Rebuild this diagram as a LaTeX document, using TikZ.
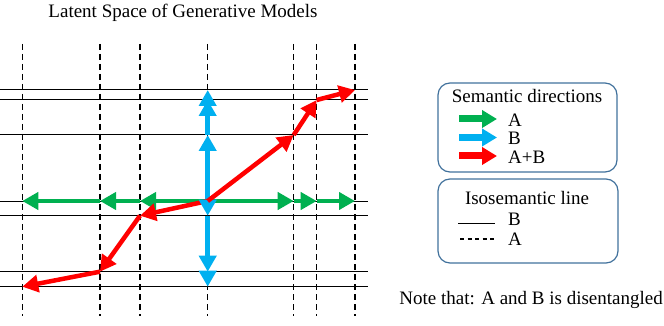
\documentclass[tikz,border=0pt]{standalone}
\usepackage{fontspec}
\setmainfont{Liberation Serif}
\usetikzlibrary{arrows.meta}
\definecolor{cgreen}{HTML}{00B050}
\definecolor{cblue}{HTML}{00B0F0}
\definecolor{cred}{HTML}{FF0000}
\definecolor{cbox}{HTML}{41719C}
\begin{document}
\begin{tikzpicture}[x=1pt,y=-1pt,
  txt/.style={font=\fontsize{19}{22}\selectfont, inner sep=0pt},
  isoB/.style={black, line width=1pt},
  isoA/.style={black, line width=1.2pt, dash pattern=on 6pt off 4pt},
  isoAleg/.style={black, line width=1.2pt, dash pattern=on 4pt off 3.5pt},
  varrow/.style={line width=4.5pt, -{Triangle[width=17pt,length=16pt]}},
  legarrow/.style={line width=7pt, -{Triangle[width=17pt,length=15pt]}},
  legbox/.style={draw=cbox, line width=1.2pt, rounded corners=12pt}]
\useasboundingbox (0,0) rectangle (664,326);
% title
\node[txt] (title) at (183,13) {Latent Space of Generative Models};
% dashed vertical lines (A)
\foreach \x [count=\i] in {22.3,100,140,207.7,293.7,316.7,355}{
  \coordinate (vt\i) at (\x,44);
  \coordinate (vb\i) at (\x,316);
  \draw[isoA] (vt\i) -- (vb\i);
}
% solid horizontal lines (B)
\foreach \y [count=\i] in {90,100,135,201,215.7,271.7,286.7}{
  \coordinate (hl\i) at (0,\y);
  \coordinate (hr\i) at (368,\y);
  \draw[isoB] (hl\i) -- (hr\i);
}
% grid points
\coordinate (O) at (207.7,201);
\coordinate (gL1) at (140,201);
\coordinate (gL2) at (100,201);
\coordinate (gL3) at (22.3,201);
\coordinate (gR1) at (293.7,201);
\coordinate (gR2) at (316.7,201);
\coordinate (gR3) at (355,201);
\coordinate (bU1) at (207.7,135);
\coordinate (bU2) at (207.7,100);
\coordinate (bU3) at (207.7,90);
\coordinate (bD1) at (207.7,215.7);
\coordinate (bD2) at (207.7,271.7);
\coordinate (bD3) at (207.7,286.7);
\coordinate (rU1) at (293.7,135);
\coordinate (rU2) at (316.7,100);
\coordinate (rU3) at (355,90);
\coordinate (rD1) at (140,215.7);
\coordinate (rD2) at (100,271.7);
\coordinate (rD3) at (22.3,286.7);
% green arrows
\draw[varrow, cgreen] (O) -- (gL1);
\draw[varrow, cgreen] (gL1) -- (gL2);
\draw[varrow, cgreen] (gL2) -- (gL3);
\draw[varrow, cgreen] (O) -- (gR1);
\draw[varrow, cgreen] (gR1) -- (gR2);
\draw[varrow, cgreen] (gR2) -- (gR3);
% blue up arrows
\draw[varrow, cblue] (O) -- (bU1);
\draw[varrow, cblue] (bU1) -- (bU2);
\draw[varrow, cblue] (bU2) -- (bU3);
% red arrows
\draw[varrow, cred] (O) -- (rD1);
\draw[varrow, cred] (rD1) -- (rD2);
\draw[varrow, cred] (rD2) -- (rD3);
% blue down arrows
\draw[varrow, cblue] (O) -- (bD1);
\draw[varrow, cblue] (bD1) -- (bD2);
\draw[varrow, cblue] (bD2) -- (bD3);
% red up-right
\draw[varrow, cred] (O) -- (rU1);
\draw[varrow, cred] (rU1) -- (rU2);
\draw[varrow, cred] (rU2) -- (rU3);
% legend box 1
\node[legbox, minimum width=179pt, minimum height=89pt] (box1) at (527.5,127.5) {};
\node[txt] (sd) at (527,96) {Semantic directions};
\coordinate (la1) at (459,119); \coordinate (lb1) at (497,119);
\coordinate (la2) at (459,137.5); \coordinate (lb2) at (497,137.5);
\coordinate (la3) at (459,156); \coordinate (lb3) at (497,156);
\draw[legarrow, cgreen] (la1) -- (lb1);
\draw[legarrow, cblue] (la2) -- (lb2);
\draw[legarrow, cred] (la3) -- (lb3);
\node[txt, anchor=west] (lA) at (508,120) {A};
\node[txt, anchor=west] (lB) at (508,138) {B};
\node[txt, anchor=west] (lAB) at (508,157) {A+B};
% legend box 2
\node[legbox, minimum width=180pt, minimum height=84pt] (box2) at (528,221) {};
\node[txt] (iso) at (527,198) {Isosemantic line};
\coordinate (ls1) at (458,223); \coordinate (le1) at (495,223);
\coordinate (ls2) at (460,239); \coordinate (le2) at (495,239);
\draw[isoB] (ls1) -- (le1);
\draw[isoAleg] (ls2) -- (le2);
\node[txt, anchor=west] (iB) at (508,219) {B};
\node[txt, anchor=west] (iA) at (508,239) {A};
% note
\node[txt, anchor=east] (note) at (663,300) {Note that: A and B is disentangled};
\end{tikzpicture}
\end{document}
